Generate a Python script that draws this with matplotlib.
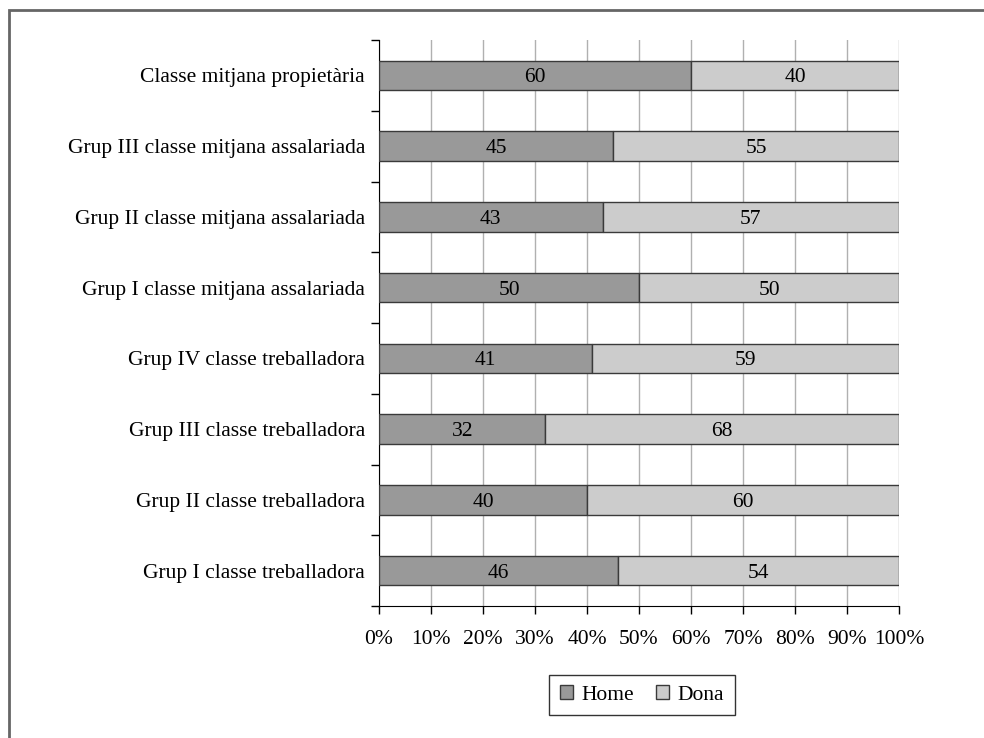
import matplotlib
matplotlib.use("Agg")
from matplotlib import pyplot as plt
from matplotlib.patches import Rectangle
import numpy as np

plt.rcParams['font.family'] = ['Liberation Serif', 'DejaVu Serif']

categories = ["Grup I classe treballadora", "Grup II classe treballadora",
              "Grup III classe treballadora", "Grup IV classe treballadora",
              "Grup I classe mitjana assalariada", "Grup II classe mitjana assalariada",
              "Grup III classe mitjana assalariada", "Classe mitjana propietària"]
home = [46, 40, 32, 41, 50, 43, 45, 60]
dona = [54, 60, 68, 59, 50, 57, 55, 40]
xticks = [0, 10, 20, 30, 40, 50, 60, 70, 80, 90, 100]

fs = 15.5

fig = plt.figure(figsize=(9.84, 7.38), dpi=100)
ax = fig.add_axes([379/984, 1-606/738, 520/984, 566/738])

y = np.arange(len(categories))
b1 = ax.barh(y, home, height=0.42, color='#999999', edgecolor='#3a3a3a', linewidth=1, label='Home', zorder=3)
b2 = ax.barh(y, dona, left=home, height=0.42, color='#cccccc', edgecolor='#3a3a3a', linewidth=1, label='Dona', zorder=3)

for i in range(len(categories)):
    ax.text(home[i]/2, y[i], str(home[i]), ha='center', va='center_baseline', fontsize=fs, zorder=4)
    ax.text(home[i] + dona[i]/2, y[i], str(dona[i]), ha='center', va='center_baseline', fontsize=fs, zorder=4)

ax.set_xlim(0, 100)
ax.set_ylim(-0.5, len(categories) - 0.5)
ax.set_xticks(xticks)
ax.set_xticklabels([f"{v}%" for v in xticks], fontsize=fs)
ax.set_yticks(np.arange(-0.5, len(categories)), labels=[''] * (len(categories) + 1))
ax.set_yticks(y, labels=categories, minor=True)
ax.tick_params(axis='y', which='major', length=6, width=1, color='black', direction='out')
ax.tick_params(axis='y', which='minor', length=0, labelsize=fs, pad=10)
ax.tick_params(axis='x', length=6, width=1, direction='out', pad=11)

ax.grid(axis='x', color='#b0b0b0', linewidth=1, zorder=0)
for s in ['top', 'right']:
    ax.spines[s].set_visible(False)
ax.spines['left'].set_color('black')
ax.spines['bottom'].set_color('black')

leg = fig.legend(handles=[b1, b2], loc='center', bbox_to_anchor=(642/984, 1-695/738),
                 ncol=2, fontsize=fs, frameon=True, fancybox=False, edgecolor='black',
                 handlelength=0.6, handleheight=0.6, handletextpad=0.4, columnspacing=1.0,
                 borderpad=0.5)
leg.get_frame().set_linewidth(1)

fig.patches.append(Rectangle((9/984, -0.1), 1.2, 1.1 - 10/738, transform=fig.transFigure,
                             fill=False, edgecolor='#666666', linewidth=2))

fig.savefig("out.png", dpi=100)
